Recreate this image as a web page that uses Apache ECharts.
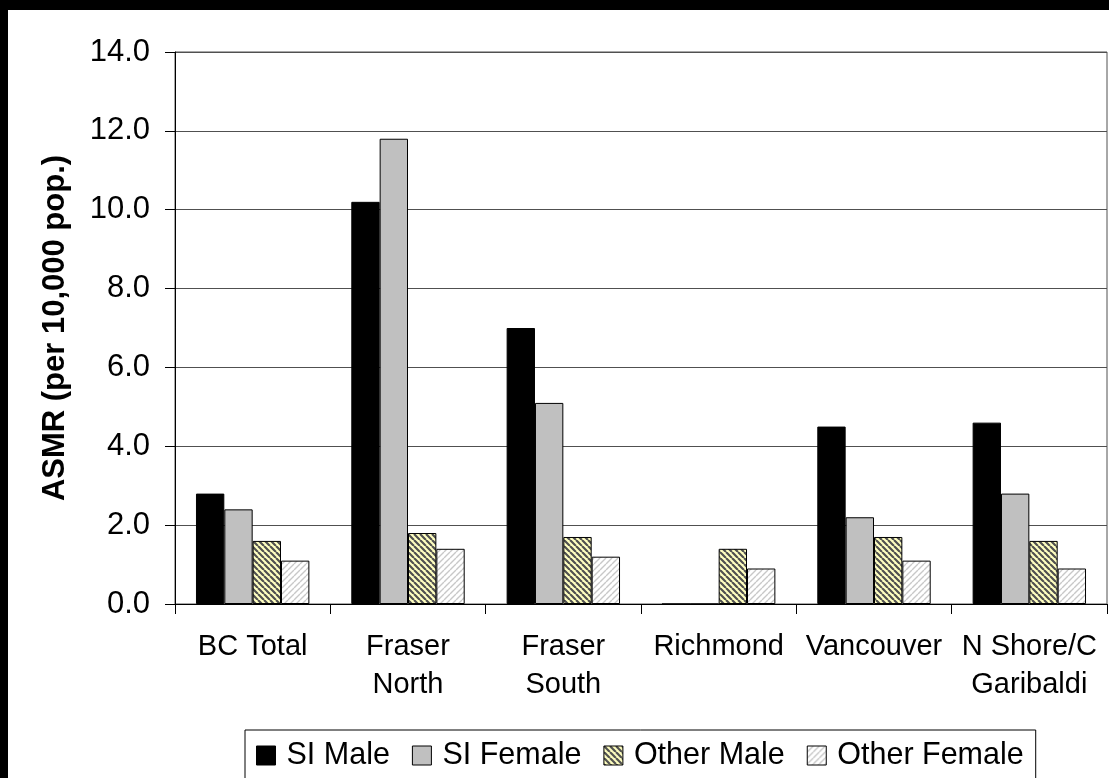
<!DOCTYPE html>
<html>
<head>
<meta charset="utf-8">
<script src="https://cdn.jsdelivr.net/npm/echarts@6/dist/echarts.min.js"></script>
<style>
  html, body { margin: 0; padding: 0; background: #fff; }
  #chart { width: 1109px; height: 778px; }
</style>
</head>
<body>
<div id="chart"></div>
<script>
// Health service areas and age-standardized mortality rates
const categories = ['BC Total', 'Fraser\nNorth', 'Fraser\nSouth', 'Richmond', 'Vancouver', 'N Shore/C\nGaribaldi'];
const siMale      = [2.8, 10.2, 7.0, 0, 4.5, 4.6];
const siFemale    = [2.4, 11.8, 5.1, 0, 2.2, 2.8];
const otherMale   = [1.6, 1.8, 1.7, 1.4, 1.7, 1.6];
const otherFemale = [1.1, 1.4, 1.2, 0.9, 1.1, 0.9];
const seriesNames = ['SI Male', 'SI Female', 'Other Male', 'Other Female'];
const yTicks = { min: 0, max: 14, interval: 2 };

const FONT = 'Liberation Sans, Arial, sans-serif';

// Diagonal hatch fill built on a small repeating canvas tile
function hatch(bg, fg, downward, lineWidth) {
  const s = 6;
  const c = document.createElement('canvas');
  c.width = s; c.height = s;
  const g = c.getContext('2d');
  g.fillStyle = bg;
  g.fillRect(0, 0, s, s);
  g.strokeStyle = fg;
  g.lineWidth = lineWidth;
  g.beginPath();
  for (let o = -s; o <= s; o += s) {
    if (downward) { g.moveTo(o, 0); g.lineTo(o + s, s); }
    else { g.moveTo(o, s); g.lineTo(o + s, 0); }
  }
  g.stroke();
  return { image: c, repeat: 'repeat' };
}

const fills = [
  '#000000',
  '#c0c0c0',
  hatch('#ffffc0', '#505050', true, 2.2),
  hatch('#ffffff', '#c8c8c8', false, 1.4)
];
const values = [siMale, siFemale, otherMale, otherFemale];

const chart = echarts.init(document.getElementById('chart'), null, { renderer: 'canvas' });

chart.setOption({
  backgroundColor: '#ffffff',
  animation: false,
  textStyle: { fontFamily: FONT },
  graphic: [
    { type: 'rect', shape: { x: 0, y: 0, width: 1109, height: 10 }, style: { fill: '#000' }, z: 100 },
    { type: 'rect', shape: { x: 0, y: 0, width: 8, height: 778 }, style: { fill: '#000' }, z: 100 }
  ],
  grid: {
    left: 175, top: 52, right: 2, bottom: 174,
    show: true, borderColor: '#505050', borderWidth: 1, backgroundColor: 'transparent'
  },
  legend: {
    left: 245, top: 730,
    orient: 'horizontal',
    data: seriesNames,
    itemWidth: 19, itemHeight: 19,
    itemGap: 22,
    padding: [10, 12, 30, 11],
    borderColor: '#000', borderWidth: 1,
    icon: 'rect',
    itemStyle: { borderColor: '#000', borderWidth: 1 },
    textStyle: { fontFamily: FONT, fontSize: 30.5, color: '#000', padding: [0, 0, 0, 6] }
  },
  xAxis: {
    type: 'category',
    data: categories,
    axisLine: { lineStyle: { color: '#000', width: 1 } },
    axisTick: { show: true, length: 10, lineStyle: { color: '#000' } },
    axisLabel: {
      fontFamily: FONT, fontSize: 29, color: '#000',
      margin: 24, lineHeight: 38, interval: 0
    },
    splitLine: { show: false }
  },
  yAxis: {
    type: 'value',
    min: yTicks.min, max: yTicks.max, interval: yTicks.interval,
    name: 'ASMR (per 10,000 pop.)',
    nameLocation: 'middle',
    nameGap: 104,
    nameRotate: 90,
    nameTextStyle: { fontFamily: FONT, fontSize: 31, fontWeight: 'bold', color: '#000' },
    axisLine: { show: true, lineStyle: { color: '#000', width: 1 } },
    axisTick: { show: true, length: 10, lineStyle: { color: '#000' } },
    axisLabel: {
      fontFamily: FONT, fontSize: 31, color: '#000', margin: 25,
      formatter: v => v.toFixed(1)
    },
    splitLine: { show: true, lineStyle: { color: '#505050', width: 1 } }
  },
  series: seriesNames.map((name, i) => ({
    name,
    type: 'bar',
    data: values[i],
    barGap: '0%',
    barCategoryGap: '27%',
    itemStyle: { color: fills[i], borderColor: '#000', borderWidth: 1 },
    emphasis: { disabled: true }
  }))
});
</script>
</body>
</html>
